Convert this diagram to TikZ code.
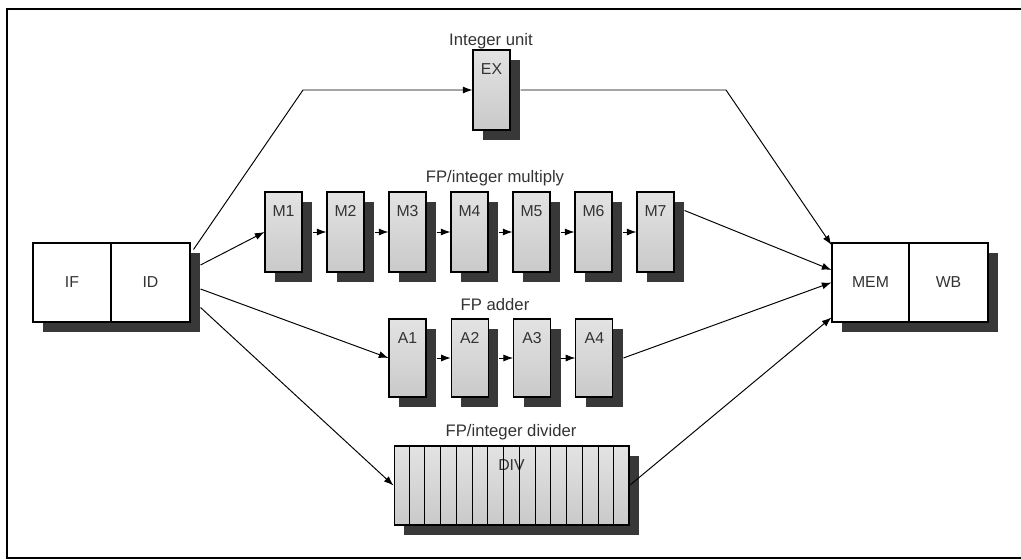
\documentclass[tikz,border=0pt]{standalone}
\usepackage{fontspec}
\setmainfont{Liberation Sans}
\usepackage{tikz}
\usetikzlibrary{positioning, calc, shadows, arrows.meta}
\definecolor{inkgray}{HTML}{333333}
\tikzset{
	stagetext/.style={font=\fontsize{9}{11}\selectfont\color{inkgray}}
}
\tikzset{
	grouptext/.style={font=\fontsize{9.5}{11}\selectfont\color{inkgray}}
}
% y axis points down here, so the shading is flipped: bottom color shows at the top
\tikzset{
	stagebox/.style={draw=black, line width=0.6pt, inner sep=0pt,
		minimum width=0.74cm, minimum height=1.6cm,
		top color=black!11, bottom color=black!21,
		drop shadow={shadow xshift=0.2cm, shadow yshift=-0.2cm, fill=black!78, opacity=1},
		label={[stagetext, anchor=center, yshift=-0.4cm]north:#1}}
}
\tikzset{
	splitbox/.style={draw=black, line width=0.6pt, fill=white, inner sep=0pt,
		minimum width=1.56cm, minimum height=1.58cm, stagetext,
		drop shadow={shadow xshift=0.2cm, shadow yshift=-0.2cm, fill=black!78, opacity=1}}
}
\tikzset{
	flow/.style={line width=0.55pt, -{Latex[length=5.5pt, width=4pt]}}
}

\begin{document}
\begin{tikzpicture}[x=0.02cm, y=-0.02cm]
      \useasboundingbox (0,0) rectangle (1021,560);

      % frame
      \draw[line width=1pt] (1021,9) -- (7,9) -- (7,558) -- (1021,558);

      % fetch and decode
      \node[splitbox] (if) at (72,282.5) {IF};
      \node[splitbox, minimum width=1.58cm] (id) at (150.5,282.5) {ID};

      % memory and write back
      \node[splitbox, minimum width=1.54cm] (mem) at (870.5,282.5) {MEM};
      \node[splitbox, minimum width=1.58cm] (wb) at (948.5,282.5) {WB};

      % integer unit
      \node[stagebox=EX] (ex) at (491.5,90) {};
      \node[grouptext] (exlabel) at (491,41) {Integer unit};

      % multiplier stages
      \foreach \i in {1,...,7} {
        \node[stagebox=M\i] (m\i) at ({283.5+62*(\i-1)},232) {};
      }
      \node[grouptext] (mlabel) at (495,178) {FP/integer multiply};

      % adder stages
      \foreach \i in {1,...,4} {
        \node[stagebox=A\i, minimum height=1.56cm] (a\i) at ({407.5+62.3*(\i-1)},358) {};
      }
      \node[grouptext] (alabel) at (495,305) {FP adder};

      % divider, not pipelined
      \node[stagebox=DIV, minimum width=4.7cm, minimum height=1.58cm] (div) at (511.5,485.5) {};
      \foreach \k in {1,...,14} {
        \draw[line width=0.6pt] ($(div.north west)!\k/15!(div.north east)$) -- ($(div.south west)!\k/15!(div.south east)$);
      }
      \node[grouptext] (dlabel) at (511,432) {FP/integer divider};

      % issue paths
      \draw[flow] ([xshift=0.06cm, yshift=-0.14cm]id.north east) -- (303,90) -- (ex.west);
      \draw[flow] ([xshift=0.2cm, yshift=0.35cm]id.east) -- (m1.west);
      \draw[flow] ([xshift=0.2cm, yshift=-0.13cm]id.east) -- (a1.west);
      \draw[flow] ([xshift=0.2cm, yshift=-0.5cm]id.east) -- (div.west);

      % stage to stage
      \foreach \i [count=\j from 2] in {1,...,6} {
        \draw[flow] ([xshift=0.2cm]m\i.east) -- (m\j.west);
      }
      \foreach \i [count=\j from 2] in {1,...,3} {
        \draw[flow] ([xshift=0.2cm]a\i.east) -- (a\j.west);
      }

      % results to memory
      \draw[flow] ([xshift=0.2cm]ex.east) -- (726,90) -- ([yshift=-0.05cm]mem.north west);
      \draw[flow] ([xshift=0.2cm, yshift=-0.38cm]m7.north east) -- ([yshift=0.25cm]mem.west);
      \draw[flow] ([xshift=0.2cm]a4.east) -- (mem.west);
      \draw[flow] (div.east) -- ([yshift=-0.7cm]mem.west);
    \end{tikzpicture}
\end{document}
